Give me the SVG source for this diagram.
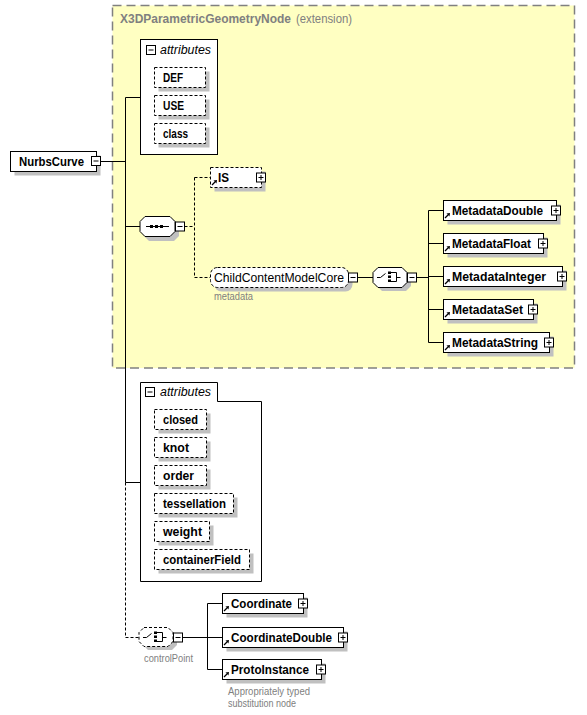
<svg xmlns="http://www.w3.org/2000/svg" width="587" height="715" viewBox="0 0 587 715">
<style>
  text { font-family: "Liberation Sans", Arial, sans-serif; }
  .lbl { font-size: 12.5px; font-weight: bold; fill: #000; }
  .plain { font-size: 12.5px; fill: #000; }
  .note { font-size: 10px; fill: #808080; }
  .hdr { font-size: 12px; font-style: italic; fill: #000; }
  .box { fill: #fff; stroke: #000; stroke-width: 1; }
  .opt { fill: #fff; stroke: #000; stroke-width: 1; stroke-dasharray: 3,2; }
  .sh { fill: #c0c0c0; stroke: none; }
  .frame { fill: #fff; stroke: #000; stroke-width: 1; }
  .ln { fill: none; stroke: #000; stroke-width: 1; }
  .dl { fill: none; stroke: #000; stroke-width: 1; stroke-dasharray: 3,2; }
  .pm { fill: #fff; stroke: #000; stroke-width: 1; }
</style>
<defs>
  <g id="plus">
    <rect class="pm" x="0" y="0" width="9" height="9"/>
    <path class="ln" d="M2,4.5 H7 M4.5,2 V7"/>
  </g>
  <g id="minus">
    <rect class="pm" x="0" y="0" width="9" height="9"/>
    <path class="ln" d="M2,4.5 H7"/>
  </g>
  <g id="ref">
    <path d="M0,0 L3,-3" stroke="#000" stroke-width="1.3" fill="none"/>
    <polygon points="5,-5 1.5,-4.5 4.5,-1.5" fill="#000"/>
  </g>
</defs>

<!-- extension frame -->
<g id="extension">
  <rect x="112.5" y="5.5" width="462" height="362.5" fill="#ffffc2" stroke="#808080" stroke-width="1.5" stroke-dasharray="9,5"/>
  <text x="120" y="23" style="font-size:12.5px;fill:#808080"><tspan font-weight="bold" textLength="171" lengthAdjust="spacingAndGlyphs">X3DParametricGeometryNode</tspan> <tspan x="296" textLength="56" lengthAdjust="spacingAndGlyphs">(extension)</tspan></text>
</g>

<!-- connectors -->
<g id="connectors">
  <path class="ln" d="M100.5,161.5 H125.5 M125.5,97.5 V482.5 M125.5,97.5 H140.5 M125.5,226.5 H140 M125.5,482.5 H140.5"/>
  <path class="dl" d="M125.5,482.5 V637.5 H139"/>
  <path class="dl" d="M184.5,226.5 H194.5 M194.5,177.5 V277.5 M194.5,177.5 H210.5 M194.5,277.5 H210.5"/>
  <path class="ln" d="M357.5,277.5 H373"/>
  <path class="ln" d="M416.5,277.5 H428.5 M428.5,210.5 V342.5 M428.5,210.5 H443.5 M428.5,243.5 H443.5 M428.5,276.5 H443.5 M428.5,309.5 H443.5 M428.5,342.5 H443.5"/>
  <path class="ln" d="M182.5,637.5 H207.5 M207.5,603.5 V669.5 M207.5,603.5 H222.5 M207.5,637.5 H222.5 M207.5,669.5 H222.5"/>
</g>

<!-- NurbsCurve -->
<g id="NurbsCurve">
  <rect class="sh" x="14.5" y="155.5" width="86" height="20"/>
  <rect class="box" x="10.5" y="151.5" width="86" height="20"/>
  <text class="lbl" x="19" y="166" textLength="65" lengthAdjust="spacingAndGlyphs">NurbsCurve</text>
  <use href="#minus" x="91.5" y="156.5"/>
</g>

<!-- attributes 1 -->
<g id="attributes1">
  <rect class="frame" x="140.5" y="39.5" width="77" height="115"/>
  <use href="#minus" x="146.5" y="45.5"/>
  <text class="hdr" x="160" y="54" textLength="51" lengthAdjust="spacingAndGlyphs">attributes</text>
  <g id="DEF">
    <rect class="sh" x="158.5" y="71.5" width="51" height="20"/>
    <rect class="opt" x="154.5" y="67.5" width="51" height="20"/>
    <text class="lbl" x="163" y="82" textLength="20" lengthAdjust="spacingAndGlyphs">DEF</text>
  </g>
  <g id="USE">
    <rect class="sh" x="158.5" y="99.5" width="51" height="20"/>
    <rect class="opt" x="154.5" y="95.5" width="51" height="20"/>
    <text class="lbl" x="163" y="110" textLength="21" lengthAdjust="spacingAndGlyphs">USE</text>
  </g>
  <g id="class">
    <rect class="sh" x="158.5" y="127.5" width="51" height="20"/>
    <rect class="opt" x="154.5" y="123.5" width="51" height="20"/>
    <text class="lbl" x="163" y="138" textLength="25" lengthAdjust="spacingAndGlyphs">class</text>
  </g>
</g>

<!-- sequence -->
<g id="sequence">
  <path class="sh" d="M149,220 H174 L179,225 V236 L174,241 H149 L144,236 V225 Z"/>
  <path class="box" d="M145,216.5 H170 L175,221.5 V231.5 L170,236.5 H145 L140,231.5 V221.5 Z"/>
  <path class="ln" d="M146,226.5 H169"/>
  <rect x="150" y="225" width="3" height="3" fill="#000"/>
  <rect x="155" y="225" width="3" height="3" fill="#000"/>
  <rect x="160" y="225" width="3" height="3" fill="#000"/>
  <use href="#minus" x="175.5" y="222"/>
</g>

<!-- IS -->
<g id="IS">
  <rect class="sh" x="214.5" y="171.5" width="51" height="20"/>
  <rect class="opt" x="210.5" y="167.5" width="51" height="20"/>
  <use href="#ref" x="212" y="185"/>
  <text class="lbl" x="218" y="182" textLength="11" lengthAdjust="spacingAndGlyphs">IS</text>
  <use href="#plus" x="256.5" y="173"/>
</g>

<!-- ChildContentModelCore -->
<g id="ChildContentModelCore">
  <rect class="sh" x="214.5" y="271.5" width="138" height="20" rx="7"/>
  <rect class="opt" x="210.5" y="267.5" width="138" height="20" rx="7"/>
  <text class="plain" x="214" y="282" textLength="130" lengthAdjust="spacingAndGlyphs">ChildContentModelCore</text>
  <use href="#minus" x="348.5" y="273"/>
  <text class="note" x="214" y="300" textLength="39" lengthAdjust="spacingAndGlyphs">metadata</text>
</g>

<!-- choice (metadata) -->
<g id="choice1">
  <path class="sh" d="M382,271 H406 L411,276 V286 L406,291 H382 L377,286 V276 Z"/>
  <path class="box" d="M378,267.5 H402 L407,272.5 V282.5 L402,287.5 H378 L373,282.5 V272.5 Z"/>
  <path class="ln" d="M377,277.5 H380.5 L385.5,273.5"/>
  <rect x="388" y="271.5" width="3" height="2.5" fill="#000"/>
  <rect x="388" y="275.5" width="3" height="2.5" fill="#000"/>
  <rect x="388" y="279.5" width="3" height="2.5" fill="#000"/>
  <path class="ln" d="M391,272.5 H396.5 V281.5 H391 M396.5,277.5 H400.5"/>
  <use href="#minus" x="407.5" y="273"/>
</g>

<!-- Metadata children -->
<g id="MetadataDouble">
  <rect class="sh" x="447.5" y="204.5" width="113" height="20"/>
  <rect class="box" x="443.5" y="200.5" width="113" height="20"/>
  <use href="#ref" x="445" y="218"/>
  <text class="lbl" x="452" y="215" textLength="91" lengthAdjust="spacingAndGlyphs">MetadataDouble</text>
  <use href="#plus" x="551.5" y="206"/>
</g>
<g id="MetadataFloat">
  <rect class="sh" x="447.5" y="237.5" width="100" height="20"/>
  <rect class="box" x="443.5" y="233.5" width="100" height="20"/>
  <use href="#ref" x="445" y="251"/>
  <text class="lbl" x="452" y="248" textLength="79" lengthAdjust="spacingAndGlyphs">MetadataFloat</text>
  <use href="#plus" x="538.5" y="239"/>
</g>
<g id="MetadataInteger">
  <rect class="sh" x="447.5" y="270.5" width="119" height="20"/>
  <rect class="box" x="443.5" y="266.5" width="119" height="20"/>
  <use href="#ref" x="445" y="284"/>
  <text class="lbl" x="452" y="281" textLength="94" lengthAdjust="spacingAndGlyphs">MetadataInteger</text>
  <use href="#plus" x="557.5" y="272"/>
</g>
<g id="MetadataSet">
  <rect class="sh" x="447.5" y="303.5" width="90" height="20"/>
  <rect class="box" x="443.5" y="299.5" width="90" height="20"/>
  <use href="#ref" x="445" y="317"/>
  <text class="lbl" x="452" y="314" textLength="71" lengthAdjust="spacingAndGlyphs">MetadataSet</text>
  <use href="#plus" x="528.5" y="305"/>
</g>
<g id="MetadataString">
  <rect class="sh" x="447.5" y="336.5" width="106" height="20"/>
  <rect class="box" x="443.5" y="332.5" width="106" height="20"/>
  <use href="#ref" x="445" y="350"/>
  <text class="lbl" x="452" y="347" textLength="86" lengthAdjust="spacingAndGlyphs">MetadataString</text>
  <use href="#plus" x="544.5" y="338"/>
</g>

<!-- attributes 2 -->
<g id="attributes2">
  <path class="frame" d="M140.5,382.5 H217.5 V401.5 H261.5 V581.5 H140.5 Z"/>
  <use href="#minus" x="145.5" y="387.5"/>
  <text class="hdr" x="160" y="396" textLength="51" lengthAdjust="spacingAndGlyphs">attributes</text>
  <g id="closed">
    <rect class="sh" x="158.5" y="413.5" width="52" height="20"/>
    <rect class="opt" x="154.5" y="409.5" width="52" height="20"/>
    <text class="lbl" x="163" y="424" textLength="35" lengthAdjust="spacingAndGlyphs">closed</text>
  </g>
  <g id="knot">
    <rect class="sh" x="158.5" y="441.5" width="52" height="20"/>
    <rect class="opt" x="154.5" y="437.5" width="52" height="20"/>
    <text class="lbl" x="163" y="452" textLength="26" lengthAdjust="spacingAndGlyphs">knot</text>
  </g>
  <g id="order">
    <rect class="sh" x="158.5" y="469.5" width="52" height="20"/>
    <rect class="opt" x="154.5" y="465.5" width="52" height="20"/>
    <text class="lbl" x="163" y="480" textLength="31" lengthAdjust="spacingAndGlyphs">order</text>
  </g>
  <g id="tessellation">
    <rect class="sh" x="158.5" y="497.5" width="79" height="20"/>
    <rect class="opt" x="154.5" y="493.5" width="79" height="20"/>
    <text class="lbl" x="163" y="508" textLength="63" lengthAdjust="spacingAndGlyphs">tessellation</text>
  </g>
  <g id="weight">
    <rect class="sh" x="158.5" y="525.5" width="55" height="20"/>
    <rect class="opt" x="154.5" y="521.5" width="55" height="20"/>
    <text class="lbl" x="163" y="536" textLength="39" lengthAdjust="spacingAndGlyphs">weight</text>
  </g>
  <g id="containerField">
    <rect class="sh" x="158.5" y="553.5" width="95" height="20"/>
    <rect class="opt" x="154.5" y="549.5" width="95" height="20"/>
    <text class="lbl" x="163" y="564" textLength="78" lengthAdjust="spacingAndGlyphs">containerField</text>
  </g>
</g>

<!-- choice (controlPoint) -->
<g id="controlPoint">
  <path class="sh" d="M148,631 H172 L177,636 V645 L172,650 H148 L143,645 V636 Z"/>
  <path class="opt" d="M144,627.5 H168 L173,632.5 V641.5 L168,646.5 H144 L139,641.5 V632.5 Z"/>
  <path class="ln" d="M143,637.5 H146.5 L151.5,633.5"/>
  <rect x="154" y="631.5" width="3" height="2.5" fill="#000"/>
  <rect x="154" y="635.5" width="3" height="2.5" fill="#000"/>
  <rect x="154" y="639.5" width="3" height="2.5" fill="#000"/>
  <path class="ln" d="M157,632.5 H162.5 V641.5 H157 M162.5,637.5 H166.5"/>
  <use href="#minus" x="173.5" y="633"/>
  <text class="note" x="144" y="662" textLength="49" lengthAdjust="spacingAndGlyphs">controlPoint</text>
</g>

<g id="Coordinate">
  <rect class="sh" x="226.5" y="597.5" width="81" height="20"/>
  <rect class="box" x="222.5" y="593.5" width="81" height="20"/>
  <use href="#ref" x="224" y="611"/>
  <text class="lbl" x="231" y="608" textLength="61" lengthAdjust="spacingAndGlyphs">Coordinate</text>
  <use href="#plus" x="298.5" y="599"/>
</g>
<g id="CoordinateDouble">
  <rect class="sh" x="226.5" y="631.5" width="121" height="20"/>
  <rect class="box" x="222.5" y="627.5" width="121" height="20"/>
  <use href="#ref" x="224" y="645"/>
  <text class="lbl" x="231" y="642" textLength="101" lengthAdjust="spacingAndGlyphs">CoordinateDouble</text>
  <use href="#plus" x="338.5" y="633"/>
</g>
<g id="ProtoInstance">
  <rect class="sh" x="226.5" y="663.5" width="99" height="20"/>
  <rect class="box" x="222.5" y="659.5" width="99" height="20"/>
  <use href="#ref" x="224" y="677"/>
  <text class="lbl" x="231" y="674" textLength="78" lengthAdjust="spacingAndGlyphs">ProtoInstance</text>
  <use href="#plus" x="316.5" y="665"/>
  <text class="note" x="228" y="695" textLength="82" lengthAdjust="spacingAndGlyphs">Appropriately typed</text>
  <text class="note" x="228" y="707" textLength="68" lengthAdjust="spacingAndGlyphs">substitution node</text>
</g>
</svg>
